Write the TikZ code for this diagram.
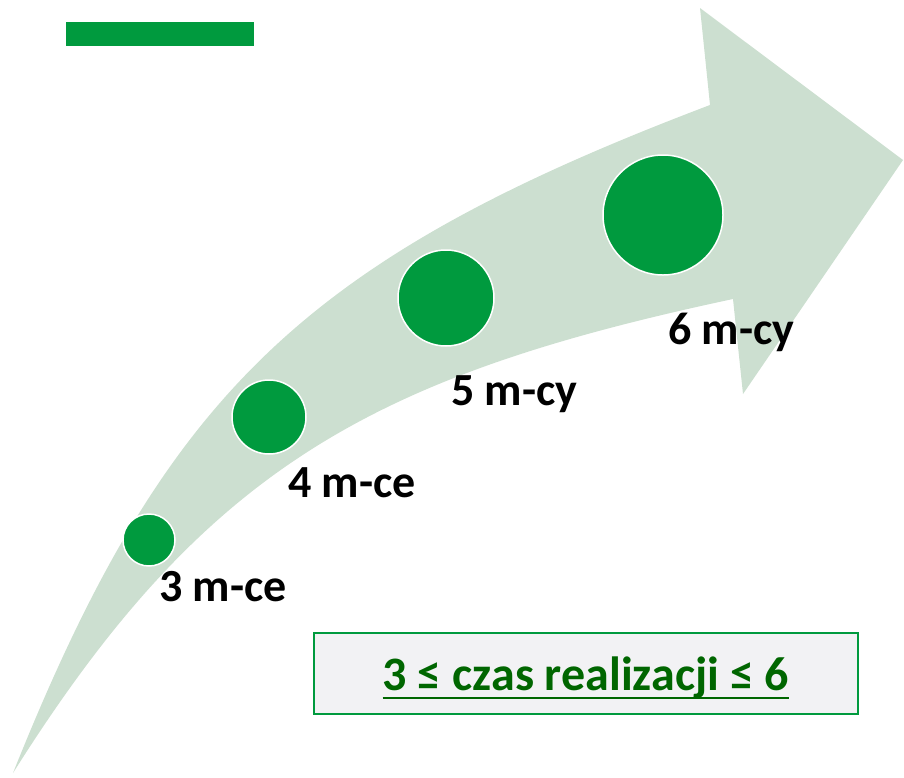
\documentclass[tikz,border=0pt]{standalone}
\usepackage{fontspec}
\setmainfont{Carlito}
\definecolor{arrowfill}{RGB}{204,223,208}
\definecolor{dotgreen}{RGB}{0,154,62}
\definecolor{txtgreen}{RGB}{0,102,0}
\definecolor{boxfill}{RGB}{242,242,244}
\begin{document}
\begin{tikzpicture}[x=1pt,y=-1pt,
  dot/.style={circle,fill=dotgreen,draw=white,line width=1.5pt,inner sep=0pt},
  lbl/.style={anchor=base west,inner sep=0pt,font=\bfseries\fontsize{46}{54}\selectfont},
  rangebox/.style={draw=dotgreen,line width=2pt,fill=boxfill,minimum width=544pt,minimum height=81pt,inner sep=0pt},
  rangetxt/.style={anchor=base,inner sep=0pt,text=txtgreen,font=\bfseries\fontsize{48}{56}\selectfont}]
\useasboundingbox (0,0) rectangle (904,777);
% top bar
\fill[dotgreen] (66,22) rectangle (254,46);
% curved arrow
\fill[arrowfill] (13,773) .. controls (165,393) and (304,259) .. (710,105)
  -- (700,8) -- (903,160) -- (743,394) -- (733,299)
  .. controls (372,376) and (205,468) .. (13,773) -- cycle;
% dots
\node[dot,minimum size=52pt] (c3) at (149,540) {};
\node[dot,minimum size=74pt] (c4) at (269,417) {};
\node[dot,minimum size=96pt] (c5) at (446,298) {};
\node[dot,minimum size=120pt] (c6) at (663,215) {};
% labels
\node[lbl] (l3) at (159,601) {3 m-ce};
\node[lbl] (l4) at (288,497) {4 m-ce};
\node[lbl] (l5) at (451,405) {5 m-cy};
\node[lbl] (l6) at (668,344) {6 m-cy};
% range box
\node[rangebox] (box) at (586,673.5) {};
\node[rangetxt] (rt) at (586,690) {3 ≤ czas realizacji ≤ 6};
\draw[txtgreen,line width=2pt] ([yshift=-8pt]rt.base west) -- ([yshift=-8pt]rt.base east);
\end{tikzpicture}
\end{document}
